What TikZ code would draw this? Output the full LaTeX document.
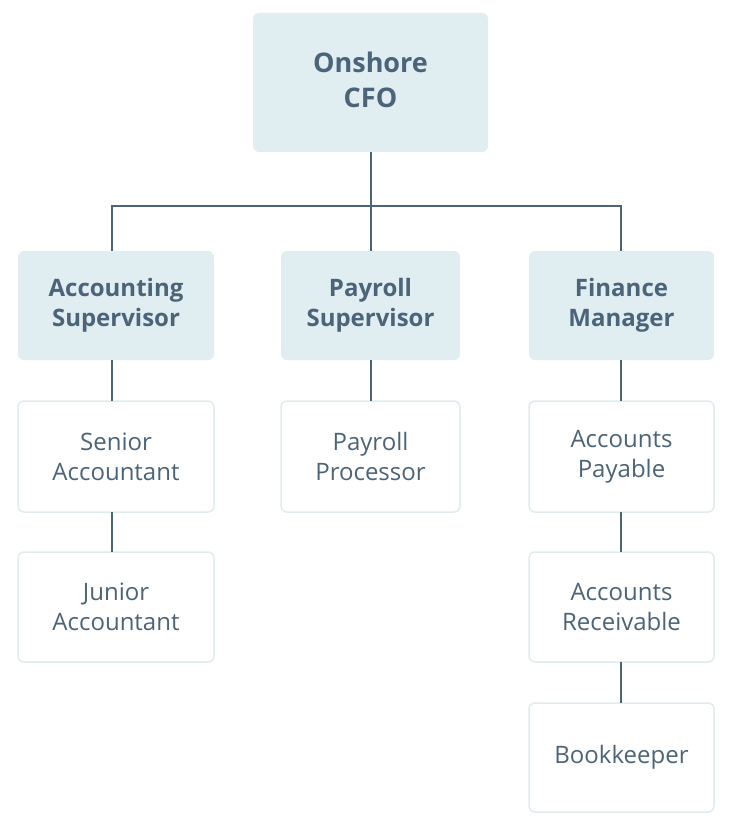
\documentclass[tikz,border=0pt]{standalone}
\usepackage{fontspec}
\setmainfont{Open Sans}
\definecolor{tx}{HTML}{4B6479}
\definecolor{fb}{HTML}{E0EDF1}
\definecolor{bd}{HTML}{E0EBEE}
\begin{document}
\begin{tikzpicture}[x=1pt,y=-1pt,
 hd/.style={fill=fb,draw=none,rounded corners=6pt,align=center,text=tx,font=\fontsize{24}{30}\selectfont\bfseries},
 sb/.style={fill=white,draw=bd,line width=1.5pt,rounded corners=6pt,align=center,text=tx,font=\fontsize{24}{30}\selectfont},
 ln/.style={draw=tx,line width=1.6pt}]
\useasboundingbox (0,0) rectangle (730,834);
\newcommand{\bx}[7]{\path[#1] (#3,#4) rectangle (#5,#6); \node[#1,fill=none,draw=none] (#2) at ({(#3+#5)/2},{(#4+#6)/2}) {#7};}
\path[hd] (253,13) rectangle (488,152);
\node[hd,fill=none,font=\fontsize{27}{35}\selectfont\bfseries] (cfo) at (370.5,80) {Onshore\\CFO};
\bx{hd}{acc}{18}{251}{214}{360}{Accounting\\Supervisor}
\bx{hd}{pay}{281}{251}{460}{360}{Payroll\\Supervisor}
\bx{hd}{fin}{529}{251}{714}{360}{Finance\\Manager}
\bx{sb}{sen}{18}{401}{214}{512}{Senior\\Accountant}
\bx{sb}{pp}{281}{401}{460}{512}{Payroll\\Processor}
\bx{sb}{ap}{529}{401}{714}{512}{Accounts\\Payable}
\bx{sb}{jun}{18}{552}{214}{662}{Junior\\Accountant}
\bx{sb}{ar}{529}{552}{714}{662}{Accounts\\Receivable}
\bx{sb}{bk}{529}{703}{714}{812}{Bookkeeper}
\coordinate (j) at (371,206);
\draw[ln] (371,152) -- (j);
\draw[ln] (112,251) -- (112,206) -- (621,206) -- (621,251);
\draw[ln] (j) -- (371,251);
\draw[ln] (112,360) -- (112,401);
\draw[ln] (112,512) -- (112,552);
\draw[ln] (371,360) -- (371,401);
\draw[ln] (621,360) -- (621,401);
\draw[ln] (621,512) -- (621,552);
\draw[ln] (621,662) -- (621,703);
\end{tikzpicture}
\end{document}
